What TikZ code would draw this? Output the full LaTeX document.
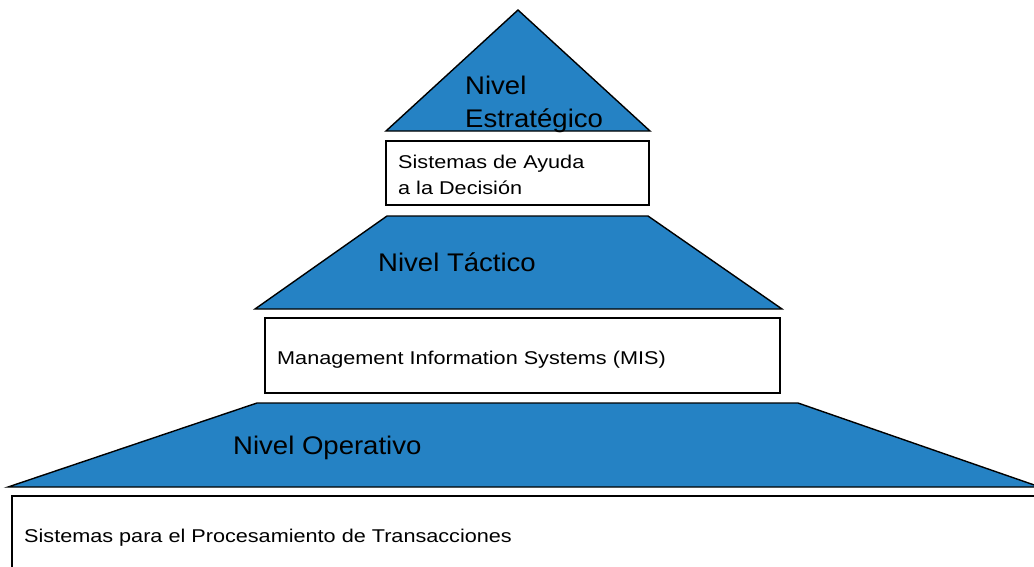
\documentclass[tikz,border=0pt]{standalone}
\usepackage{fontspec}
\setmainfont{Liberation Sans}
\newfontfamily\bigfam[FakeStretch=1.08]{Liberation Sans}
\newfontfamily\smallfam[FakeStretch=1.17]{Liberation Sans}
\definecolor{lvblue}{RGB}{37,130,196}
\begin{document}
\begin{tikzpicture}[x=1pt,y=-1pt,
  level/.style={fill=lvblue,draw=black,line width=1.4pt,line join=miter},
  sysbox/.style={fill=white,draw=black,line width=1.4pt},
  bigtxt/.style={anchor=base west,inner sep=0pt,font=\bigfam\fontsize{25.5}{34}\selectfont,align=left},
  smalltxt/.style={anchor=base west,inner sep=0pt,font=\smallfam\fontsize{18.5}{26}\selectfont,align=left}]
\useasboundingbox (0,0) rectangle (1034,566);
% Strategic level
\path[level] (518,10) -- (650,131) -- (386,131) -- cycle;
\path[sysbox] (386,141) rectangle (649,205);
% Tactical level
\path[level] (387,216) -- (648,216) -- (782,309) -- (255,309) -- cycle;
\path[sysbox] (265,318) rectangle (780,393);
% Operational level
\path[level] (257,403) -- (798,403) -- (1040,487) -- (8,487) -- cycle;
\path[sysbox] (12,496) rectangle (1040,572);
% Texts
\node[bigtxt] (est1) at (465,94) {Nivel};
\node[bigtxt] (est2) at (465,127.7) {Estratégico};
\node[smalltxt] (dss1) at (398,168.3) {Sistemas de Ayuda};
\node[smalltxt] (dss2) at (398,194) {a la Decisión};
\node[bigtxt] (tac) at (378,271) {Nivel Táctico};
\node[smalltxt] (mis) at (277,364) {Management Information Systems (MIS)};
\node[bigtxt] (ope) at (233,454.3) {Nivel Operativo};
\node[smalltxt] (tps) at (24,542) {Sistemas para el Procesamiento de Transacciones};
\end{tikzpicture}
\end{document}
